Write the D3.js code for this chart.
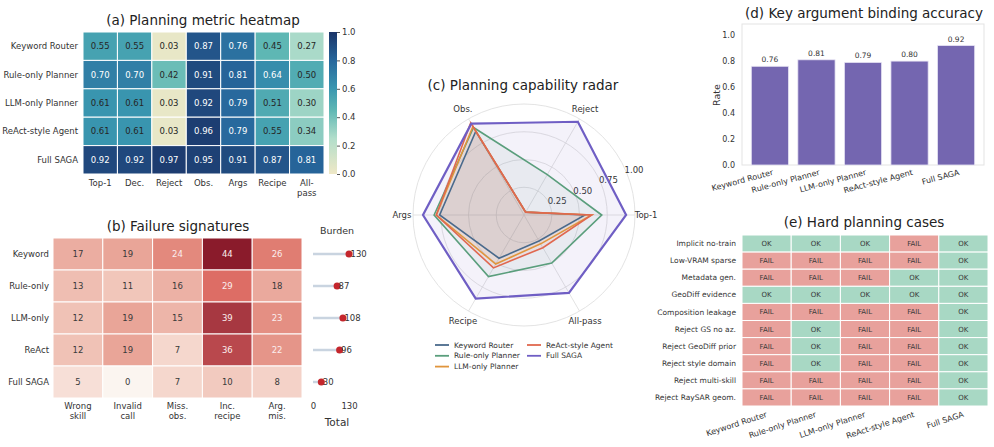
<!DOCTYPE html>
<html>
<head>
<meta charset="utf-8">
<script src="https://cdn.jsdelivr.net/npm/d3@7"></script>
<style>
  body { margin: 0; background: #fff; }
  svg { display: block; font-family: "DejaVu Sans", sans-serif; }
</style>
</head>
<body>
<script>
// Data
const methods = ['Keyword Router', 'Rule-only Planner', 'LLM-only Planner', 'ReAct-style Agent', 'Full SAGA']
const metrics = ['Top-1', 'Dec.', 'Reject', 'Obs.', 'Args', 'Recipe', 'All-pass']
const metricValues = [
  [0.55, 0.55, 0.03, 0.87, 0.76, 0.45, 0.27],
  [0.70, 0.70, 0.42, 0.91, 0.81, 0.64, 0.50],
  [0.61, 0.61, 0.03, 0.92, 0.79, 0.51, 0.30],
  [0.61, 0.61, 0.03, 0.96, 0.79, 0.55, 0.34],
  [0.92, 0.92, 0.97, 0.95, 0.91, 0.87, 0.81]
]
const colorbarTicks = [0, 0.2, 0.4, 0.6, 0.8, 1.0]

const failureRows = ['Keyword', 'Rule-only', 'LLM-only', 'ReAct', 'Full SAGA']
const failureTypes = ['Wrong skill', 'Invalid call', 'Miss. obs.', 'Inc. recipe', 'Arg. mis.']
const failureCounts = [
  [17, 19, 24, 44, 26],
  [13, 11, 16, 29, 18],
  [12, 19, 15, 39, 23],
  [12, 19, 7, 36, 22],
  [5, 0, 7, 10, 8]
]

const radarAxes = ['Top-1', 'Reject', 'Obs.', 'Args', 'Recipe', 'All-pass']
const radarTicks = [0.25, 0.50, 0.75, 1.00]
const radarColors = ['#4a6a8c', '#5a9e7c', '#e0953c', '#e0684f', '#6f5ec4']

const bindingAccuracy = [0.76, 0.81, 0.79, 0.80, 0.92]
const rateTicks = [0, 0.2, 0.4, 0.6, 0.8, 1.0]

const hardCases = ['Implicit no-train', 'Low-VRAM sparse', 'Metadata gen.', 'GeoDiff evidence',
  'Composition leakage', 'Reject GS no az.', 'Reject GeoDiff prior', 'Reject style domain',
  'Reject multi-skill', 'Reject RaySAR geom.']
const hardResults = [
  ['OK', 'OK', 'OK', 'FAIL', 'OK'],
  ['FAIL', 'FAIL', 'FAIL', 'FAIL', 'OK'],
  ['FAIL', 'FAIL', 'FAIL', 'OK', 'OK'],
  ['OK', 'OK', 'OK', 'OK', 'OK'],
  ['FAIL', 'FAIL', 'FAIL', 'FAIL', 'OK'],
  ['FAIL', 'OK', 'FAIL', 'FAIL', 'OK'],
  ['FAIL', 'OK', 'FAIL', 'FAIL', 'OK'],
  ['FAIL', 'OK', 'FAIL', 'FAIL', 'OK'],
  ['FAIL', 'FAIL', 'FAIL', 'FAIL', 'OK'],
  ['FAIL', 'FAIL', 'FAIL', 'FAIL', 'OK']
]

const textColor = '#333'

const svg = d3.select('body').append('svg')
  .attr('width', 994)
  .attr('height', 447)

function title (x, y, txt) {
  svg.append('text')
    .attr('x', x).attr('y', y)
    .attr('text-anchor', 'middle')
    .style('font-size', '13.5px')
    .style('fill', '#222')
    .text(txt)
}

function multiline (g, x, y, lines, size) {
  const t = g.append('text')
    .attr('x', x).attr('y', y)
    .attr('text-anchor', 'middle')
    .style('font-size', size)
    .style('fill', textColor)
  lines.forEach((l, i) => {
    t.append('tspan').attr('x', x).attr('dy', i === 0 ? 0 : '1.15em').text(l)
  })
}

// (a) heatmap
function drawMetricHeatmap () {
  const g = svg.append('g')
  const x = d3.scaleBand().domain(metrics).range([83, 324])
  const y = d3.scaleBand().domain(methods).range([32, 174])
  const color = d3.scaleLinear()
    .domain([0, 0.25, 0.45, 0.6, 0.8, 1.0])
    .range(['#efe8c6', '#b2decb', '#5eb7b4', '#3a97b0', '#27679c', '#1b3468'])

  methods.forEach((m, i) => {
    metrics.forEach((k, j) => {
      const v = metricValues[i][j]
      g.append('rect')
        .attr('x', x(k)).attr('y', y(m))
        .attr('width', x.bandwidth()).attr('height', y.bandwidth())
        .attr('fill', color(v))
        .attr('stroke', '#fff').attr('stroke-width', 1)
      g.append('text')
        .attr('x', x(k) + x.bandwidth() / 2)
        .attr('y', y(m) + y.bandwidth() / 2)
        .attr('dy', '0.35em')
        .attr('text-anchor', 'middle')
        .style('font-size', '8.5px')
        .style('fill', v > 0.62 ? '#fff' : '#262626')
        .text(v.toFixed(2))
    })
    g.append('text')
      .attr('x', 78).attr('y', y(m) + y.bandwidth() / 2)
      .attr('dy', '0.35em')
      .attr('text-anchor', 'end')
      .style('font-size', '8.5px')
      .style('fill', textColor)
      .text(m)
  })
  metrics.forEach(k => {
    const lines = k === 'All-pass' ? ['All-', 'pass'] : [k]
    multiline(g, x(k) + x.bandwidth() / 2, 186, lines, '8.5px')
  })

  // colorbar
  const defs = svg.append('defs')
  const grad = defs.append('linearGradient').attr('id', 'cbar')
    .attr('x1', 0).attr('y1', 1).attr('x2', 0).attr('y2', 0)
  d3.range(0, 1.001, 0.05).forEach(t => {
    grad.append('stop').attr('offset', t).attr('stop-color', color(t))
  })
  const cy = d3.scaleLinear().domain([0, 1]).range([174, 32])
  g.append('rect').attr('x', 329).attr('y', 32).attr('width', 8).attr('height', 142)
    .attr('fill', 'url(#cbar)')
  const ax = g.append('g').attr('transform', 'translate(337,0)')
    .call(d3.axisRight(cy).tickValues(colorbarTicks).tickSize(3).tickFormat(d3.format('.1f')))
  ax.select('.domain').remove()
  ax.selectAll('line').attr('stroke', '#555')
  ax.selectAll('text').style('font-size', '8.5px').style('fill', textColor)
    .style('font-family', 'DejaVu Sans').attr('x', 5)

  title(203, 25, '(a) Planning metric heatmap')
}

// (b) failure signatures
function drawFailures () {
  const g = svg.append('g')
  const x = d3.scaleBand().domain(failureTypes).range([53, 302])
  const y = d3.scaleBand().domain(failureRows).range([238, 398])
  const color = d3.scaleLinear()
    .domain([0, 9, 20, 26, 30, 37, 44])
    .range(['#fbf5f0', '#f3cec3', '#e8a194', '#e07d72', '#dc6761', '#b3434a', '#8a1b2b'])

  failureRows.forEach((r, i) => {
    failureTypes.forEach((f, j) => {
      const v = failureCounts[i][j]
      g.append('rect')
        .attr('x', x(f)).attr('y', y(r))
        .attr('width', x.bandwidth()).attr('height', y.bandwidth())
        .attr('fill', color(v))
        .attr('stroke', '#fff').attr('stroke-width', 1)
      g.append('text')
        .attr('x', x(f) + x.bandwidth() / 2)
        .attr('y', y(r) + y.bandwidth() / 2)
        .attr('dy', '0.35em')
        .attr('text-anchor', 'middle')
        .style('font-size', '8.5px')
        .style('fill', v > 20 ? '#fbeeee' : '#3a3a3a')
        .text(v)
    })
    g.append('text')
      .attr('x', 49).attr('y', y(r) + y.bandwidth() / 2)
      .attr('dy', '0.35em')
      .attr('text-anchor', 'end')
      .style('font-size', '8.5px')
      .style('fill', textColor)
      .text(r)
  })
  failureTypes.forEach(f => {
    multiline(g, x(f) + x.bandwidth() / 2, 409, f.split(' '), '8.5px')
  })

  // burden lollipop
  const totals = failureCounts.map(r => d3.sum(r))
  const bx = d3.scaleLinear().domain([0, 130]).range([313, 349])
  failureRows.forEach((r, i) => {
    const yy = y(r) + y.bandwidth() / 2
    g.append('line')
      .attr('x1', bx(0)).attr('x2', bx(totals[i]))
      .attr('y1', yy).attr('y2', yy)
      .attr('stroke', '#c9d4e0').attr('stroke-width', 2.5)
    g.append('circle')
      .attr('cx', bx(totals[i])).attr('cy', yy).attr('r', 3.5)
      .attr('fill', '#c4262c')
    g.append('text')
      .attr('x', bx(totals[i]) + 1.5).attr('y', yy)
      .attr('dy', '0.35em')
      .style('font-size', '8.5px')
      .style('fill', textColor)
      .text(totals[i])
  })
  const ax = g.append('g').attr('transform', 'translate(0,398)')
    .call(d3.axisBottom(bx).tickValues([0, 130]).tickSize(0).tickPadding(5))
  ax.select('.domain').remove()
  ax.selectAll('text').style('font-size', '8.5px').style('fill', textColor)
    .style('font-family', 'DejaVu Sans')
  g.append('text').attr('x', 337).attr('y', 426).attr('text-anchor', 'middle')
    .style('font-size', '10.5px').style('fill', textColor).text('Total')
  g.append('text').attr('x', 337).attr('y', 234).attr('text-anchor', 'middle')
    .style('font-size', '9.5px').style('fill', textColor).text('Burden')

  title(178, 231, '(b) Failure signatures')
}

// (c) radar
function drawRadar () {
  const cx = 524
  const cy = 215
  const r = d3.scaleLinear().domain([0, 1]).range([0, 111])
  const g = svg.append('g').attr('transform', `translate(${cx},${cy})`)
  const step = 2 * Math.PI / radarAxes.length

  radarTicks.forEach(t => {
    g.append('circle').attr('r', r(t)).attr('fill', 'none')
      .attr('stroke', '#dcdcdc').attr('stroke-width', 0.8)
  })
  radarAxes.forEach((a, i) => {
    const ang = i * step
    g.append('line')
      .attr('x2', r(1) * Math.cos(ang)).attr('y2', -r(1) * Math.sin(ang))
      .attr('stroke', '#dcdcdc').attr('stroke-width', 0.8)
    g.append('text')
      .attr('x', r(1.1) * Math.cos(ang)).attr('y', -r(1.1) * Math.sin(ang))
      .attr('dy', '0.35em')
      .attr('text-anchor', 'middle')
      .style('font-size', '8.5px')
      .style('fill', textColor)
      .text(a)
  })
  const la = 22.5 * Math.PI / 180
  radarTicks.forEach(t => {
    g.append('text')
      .attr('x', r(t) * Math.cos(la) - 2).attr('y', -r(t) * Math.sin(la))
      .style('font-size', '8.5px')
      .style('fill', textColor)
      .text(t.toFixed(2))
  })

  const line = d3.lineRadial()
    .angle((d, i) => Math.PI / 2 - i * step)
    .radius(d => r(d))
    .curve(d3.curveLinearClosed)
  const radarIdx = radarAxes.map(a => metrics.indexOf(a))

  methods.forEach((m, i) => {
    const vals = radarIdx.map(j => metricValues[i][j])
    g.append('path').attr('d', line(vals))
      .attr('fill', radarColors[i]).attr('fill-opacity', 0.08)
      .attr('stroke', 'none')
  })
  methods.forEach((m, i) => {
    const vals = radarIdx.map(j => metricValues[i][j])
    g.append('path').attr('d', line(vals))
      .attr('fill', 'none')
      .attr('stroke', radarColors[i])
      .attr('stroke-width', i === 4 ? 2.2 : 1.6)
      .attr('stroke-linejoin', 'miter')
  })

  // legend
  const lg = svg.append('g')
  methods.forEach((m, i) => {
    const col = i < 3 ? 0 : 1
    const row = i < 3 ? i : i - 3
    const lx = col === 0 ? 435 : 527
    const ly = 345 + row * 10.8
    lg.append('line').attr('x1', lx).attr('x2', lx + 14).attr('y1', ly).attr('y2', ly)
      .attr('stroke', radarColors[i]).attr('stroke-width', 1.8)
    lg.append('text').attr('x', lx + 19).attr('y', ly).attr('dy', '0.35em')
      .style('font-size', '7.5px').style('fill', textColor).text(m)
  })

  title(523, 90, '(c) Planning capability radar')
}

// (d) bars
function drawBars () {
  const g = svg.append('g')
  const x = d3.scaleBand().domain(methods).range([742, 984]).paddingInner(0.2).paddingOuter(0.2)
  const y = d3.scaleLinear().domain([0, d3.max(bindingAccuracy) * 1.18]).range([165, 24])

  g.append('rect').attr('x', 742).attr('y', 24).attr('width', 242).attr('height', 141)
    .attr('fill', 'none').attr('stroke', '#e3e3e3').attr('stroke-width', 1)

  methods.forEach((m, i) => {
    const v = bindingAccuracy[i]
    g.append('rect')
      .attr('x', x(m)).attr('y', y(v))
      .attr('width', x.bandwidth()).attr('height', y(0) - y(v))
      .attr('fill', '#7466b0')
      .attr('stroke', '#e8e5f4').attr('stroke-width', 0.8)
    g.append('text')
      .attr('x', x(m) + x.bandwidth() / 2).attr('y', y(v) - 4)
      .attr('text-anchor', 'middle')
      .style('font-size', '7.5px')
      .style('fill', textColor)
      .text(v.toFixed(2))
    g.append('text')
      .attr('transform', `translate(${x(m) + x.bandwidth() / 2 + 3},${172}) rotate(-15)`)
      .attr('text-anchor', 'end')
      .attr('dy', '0.35em')
      .style('font-size', '8px')
      .style('fill', textColor)
      .text(m)
  })
  const ax = g.append('g').attr('transform', 'translate(742,0)')
    .call(d3.axisLeft(y).tickValues(rateTicks).tickSize(0).tickPadding(7).tickFormat(d3.format('.1f')))
  ax.select('.domain').remove()
  ax.selectAll('text').style('font-size', '8px').style('fill', textColor)
    .style('font-family', 'DejaVu Sans')
  g.append('text')
    .attr('transform', 'translate(720,95) rotate(-90)')
    .attr('text-anchor', 'middle')
    .style('font-size', '9.5px').style('fill', textColor)
    .text('Rate')

  title(864, 18, '(d) Key argument binding accuracy')
}

// (e) hard cases
function drawHardCases () {
  const g = svg.append('g')
  const x = d3.scaleBand().domain(methods).range([742, 988])
  const y = d3.scaleBand().domain(hardCases).range([235, 406])
  const fill = { OK: '#a8d8c4', FAIL: '#e8a19c' }

  hardCases.forEach((c, i) => {
    methods.forEach((m, j) => {
      const v = hardResults[i][j]
      g.append('rect')
        .attr('x', x(m)).attr('y', y(c))
        .attr('width', x.bandwidth()).attr('height', y.bandwidth())
        .attr('fill', fill[v])
        .attr('stroke', '#fff').attr('stroke-width', 1)
      g.append('text')
        .attr('x', x(m) + x.bandwidth() / 2)
        .attr('y', y(c) + y.bandwidth() / 2)
        .attr('dy', '0.35em')
        .attr('text-anchor', 'middle')
        .style('font-size', '7px')
        .style('fill', '#3a3a3a')
        .text(v)
    })
    g.append('text')
      .attr('x', 736).attr('y', y(c) + y.bandwidth() / 2)
      .attr('dy', '0.35em')
      .attr('text-anchor', 'end')
      .style('font-size', '7.5px')
      .style('fill', textColor)
      .text(c)
  })
  methods.forEach(m => {
    g.append('text')
      .attr('transform', `translate(${x(m) + x.bandwidth() / 2},${414}) rotate(-18)`)
      .attr('text-anchor', 'end')
      .attr('dy', '0.35em')
      .style('font-size', '8px')
      .style('fill', textColor)
      .text(m)
  })

  title(864, 227, '(e) Hard planning cases')
}

drawMetricHeatmap()
drawFailures()
drawRadar()
drawBars()
drawHardCases()
</script>
</body>
</html>
